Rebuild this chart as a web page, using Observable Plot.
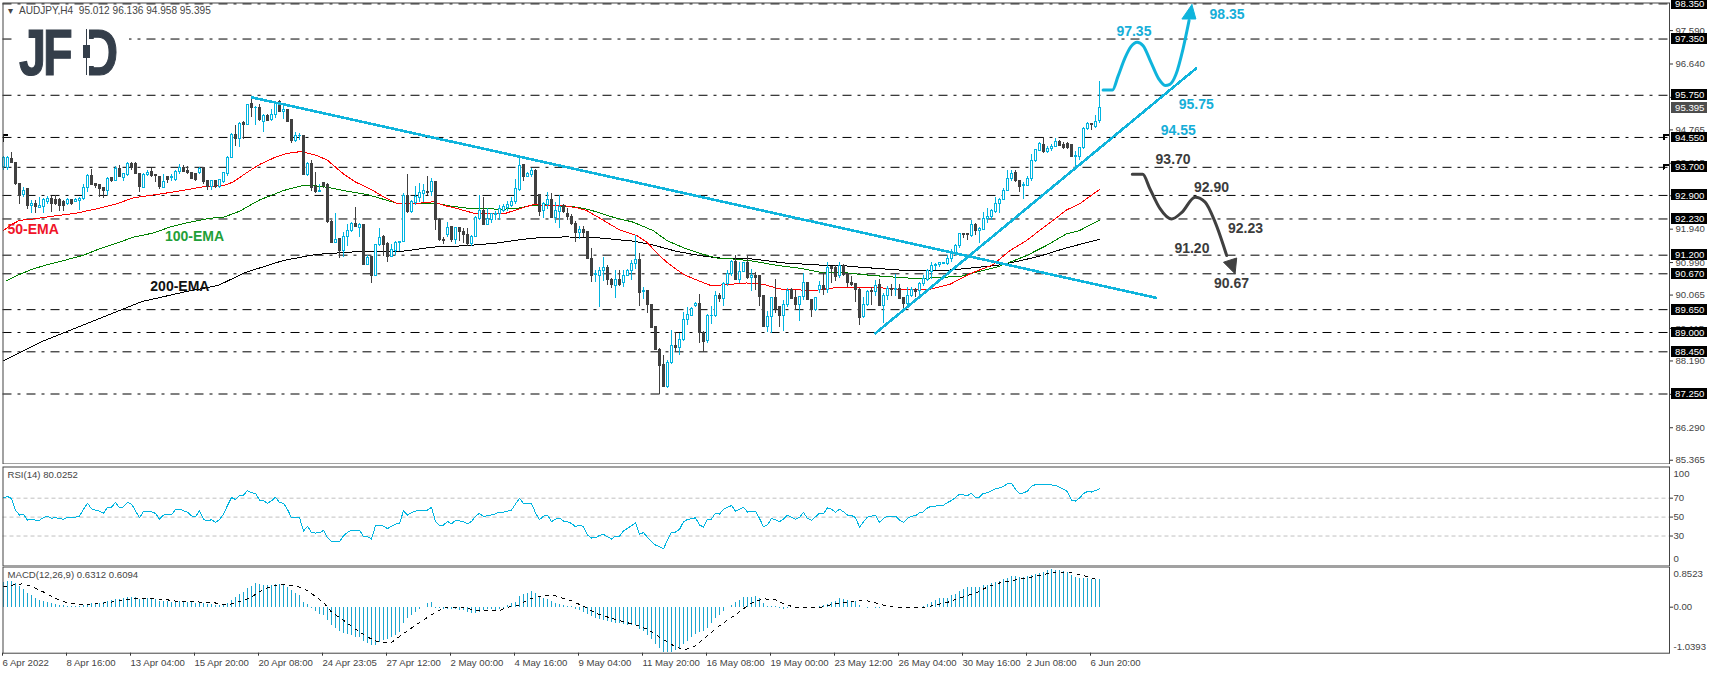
<!DOCTYPE html>
<html><head><meta charset="utf-8">
<script src="https://cdn.jsdelivr.net/npm/d3@7"></script>
<script src="https://cdn.jsdelivr.net/npm/@observablehq/plot@0.6"></script>
<style>
html,body{margin:0;padding:0;background:#fff;width:1710px;height:674px;overflow:hidden}
#stage{position:relative;width:1710px;height:674px}
#stage svg{position:absolute;left:0;background:transparent}
.logo{position:absolute;font:bold 64px "Liberation Sans";color:#343e4a;line-height:64px;transform-origin:left top;transform:scaleX(.76);-webkit-text-stroke:1.2px #343e4a}
.patch{position:absolute;background:#fff}
.ink{position:absolute;background:#343e4a}
</style></head><body><div id="stage"></div>
<script>
const opens=[93.72,93.68,93.94,93.82,93.23,92.90,93.07,92.59,92.65,92.55,
92.57,92.71,92.80,92.78,92.78,92.72,92.66,92.76,92.72,92.74,
92.79,93.12,93.44,93.23,93.20,93.11,93.04,93.39,93.32,93.64,
93.40,93.47,93.80,93.80,93.5,93.11,93.49,93.56,93.49,93.42,
93.12,93.42,93.39,93.34,93.57,93.67,93.59,93.55,93.5,93.55,
93.67,93.3,93.14,93.3,93.14,93.28,93.52,93.97,94.61,94.5,
94.97,94.91,95.5,95.38,95.4,95.0,95.17,95.05,95.2,95.55,
95.27,95.33,95.05,94.46,94.58,94.6,93.48,93.8,93.13,93.0,
93.25,93.21,92.14,91.55,91.66,91.31,91.71,91.88,92.09,91.98,
92.06,90.93,91.14,90.61,91.5,91.71,91.52,91.14,91.33,91.55,
91.57,92.87,92.42,92.68,92.82,92.94,93.0,92.99,93.28,92.2,
91.64,91.76,92.0,91.62,91.98,91.87,91.78,91.52,91.73,92.23,
92.47,92.07,92.19,92.35,92.38,92.47,92.55,92.61,92.7,93.06,
93.78,93.42,93.49,93.59,92.9,92.45,92.64,92.77,92.26,92.44,
92.61,92.36,92.3,92.09,91.83,91.92,91.85,91.09,90.64,90.62,
90.74,90.84,90.5,90.33,90.48,90.4,90.6,90.74,90.95,91.07,
90.14,90.18,89.79,89.15,88.5,88.08,87.44,88.12,88.62,88.55,
88.79,89.36,89.48,89.74,89.82,88.99,88.75,89.46,89.47,90.04,
89.96,90.38,90.67,91.0,90.5,90.72,90.97,90.55,90.6,90.62,
90.05,89.17,89.43,89.98,89.72,89.48,89.79,90.22,89.99,89.77,
90.0,90.41,89.93,89.64,90.2,90.31,90.2,90.85,90.84,90.6,
90.9,90.67,90.41,90.38,90.21,89.43,89.77,90.18,90.15,90.34,
89.75,90.03,90.25,90.22,90.25,89.98,89.8,90.03,90.2,90.17,
90.37,90.5,90.72,90.88,90.92,90.96,90.95,91.1,91.24,91.45,
91.81,91.79,91.75,92.05,91.88,91.92,92.22,92.28,92.42,92.66,
92.77,93.02,93.37,93.54,93.32,93.17,93.18,93.37,93.88,94.16,
94.34,94.15,94.21,94.27,94.43,94.34,94.37,94.34,94.0,93.99,
94.24,94.79,94.92,94.86,95.012];
const highs=[94.0,94.0,94.11,93.85,93.23,93.14,93.07,92.76,92.76,92.85,
92.80,92.88,92.88,92.90,92.80,92.76,92.80,92.78,92.80,92.85,
93.2,93.5,93.65,93.23,93.20,93.11,93.4,93.4,93.73,93.75,
93.53,93.83,93.83,93.83,93.5,93.52,93.6,93.67,93.5,93.42,
93.5,93.45,93.5,93.6,93.77,93.75,93.73,93.55,93.5,93.7,
93.7,93.3,93.3,93.3,93.35,93.55,94.0,94.65,94.9,94.98,
95.0,95.5,95.72,95.42,95.5,95.2,95.2,95.35,95.55,95.6,
95.5,95.35,95.05,94.7,94.65,94.6,93.85,93.88,93.56,93.2,
93.25,93.25,92.2,92.38,91.66,91.85,92.07,92.12,92.55,92.09,
92.06,91.2,91.14,91.5,91.95,91.75,91.55,91.5,91.6,91.6,
92.95,93.49,92.75,93.15,93.23,93.2,93.44,93.37,93.28,92.25,
91.7,92.12,92.0,92.0,92.0,91.95,91.95,91.75,92.3,92.9,
92.85,92.52,92.4,92.45,92.62,92.65,92.73,92.85,93.35,94.0,
93.78,93.55,93.68,93.65,92.9,92.7,92.99,92.95,92.7,92.9,
92.65,92.52,92.35,92.15,92.01,92.02,91.87,91.4,90.76,90.86,
91.12,90.9,90.55,90.76,90.76,90.76,90.8,91.05,91.76,91.24,
90.29,90.2,89.8,89.17,88.55,88.34,88.2,89.07,88.99,88.96,
89.58,89.72,89.72,89.86,90.08,89.03,89.5,89.74,90.18,90.1,
90.42,90.76,91.06,91.19,91.0,91.0,91.19,90.8,90.72,90.62,
90.05,89.6,90.0,90.5,89.75,89.9,90.25,90.25,90.19,90.0,
90.67,90.43,89.95,90.0,90.44,90.7,91.0,90.87,90.9,91.0,
90.93,90.67,90.6,90.38,90.25,90.0,90.2,90.29,90.48,90.5,
90.1,90.3,90.37,90.64,90.37,90.0,90.27,90.27,90.24,90.42,
90.62,90.8,91.0,90.97,91.0,91.0,91.2,91.35,91.5,91.83,
91.81,91.83,92.2,92.1,92.0,92.42,92.52,92.5,92.83,92.8,
93.1,93.6,93.6,93.6,93.32,93.28,93.45,94.06,94.2,94.4,
94.54,94.3,94.35,94.52,94.45,94.4,94.4,94.36,94.16,94.26,
94.83,94.98,94.96,95.17,96.136];
const lows=[93.62,93.62,93.80,93.17,92.64,92.85,92.49,92.38,92.38,92.52,
92.40,92.65,92.42,92.60,92.45,92.45,92.60,92.62,92.70,92.47,
92.76,92.99,93.21,93.10,92.85,92.80,92.90,93.28,93.3,93.4,
93.3,93.45,93.6,93.5,92.99,93.09,93.45,93.4,93.28,93.08,
93.1,93.25,93.3,93.3,93.5,93.55,93.5,93.35,93.3,93.5,
93.2,93.05,93.05,93.1,93.1,93.25,93.45,93.95,94.28,94.25,
94.5,94.9,95.13,94.9,95.0,94.7,95.0,95.0,95.1,95.25,
95.05,95.0,94.37,94.4,94.45,93.48,93.45,93.0,92.95,92.97,
93.1,92.1,91.55,91.53,91.1,91.13,91.45,91.85,91.99,91.69,
90.93,90.9,90.4,90.6,91.45,91.15,91.0,91.14,91.2,91.3,
91.55,92.4,92.4,92.62,92.7,92.7,92.9,92.88,91.9,91.6,
91.5,91.7,91.55,91.5,91.6,91.52,91.45,91.45,91.7,92.2,
92.05,92.05,92.1,92.2,92.2,92.42,92.45,92.55,92.65,93.0,
93.3,93.4,93.4,92.66,92.3,92.25,92.5,92.25,92.1,91.97,
92.4,92.2,92.05,91.57,91.66,91.7,91.09,90.43,90.43,89.7,
90.45,90.34,90.24,89.98,90.3,90.29,90.58,90.48,90.8,89.74,
89.93,89.53,89.12,88.49,87.25,87.44,87.42,88.1,88.42,88.35,
88.75,89.2,89.45,89.7,88.7,88.42,88.7,89.24,89.44,89.86,
89.74,90.3,90.6,90.48,90.38,90.7,90.5,90.18,90.2,89.74,
89.17,89.0,88.96,89.53,89.15,89.04,89.72,89.94,89.63,89.32,
89.9,89.9,89.43,89.6,90.1,90.05,90.1,90.4,90.45,90.55,
90.6,90.29,90.3,89.86,89.2,89.4,89.75,89.76,90.02,89.74,
89.27,89.9,90.02,90.02,89.94,89.63,89.78,90.0,90.0,90.05,
90.3,90.45,90.5,90.75,90.85,90.94,90.9,91.0,91.15,91.4,
91.68,91.63,91.7,91.76,91.54,91.9,92.1,92.2,92.4,92.4,
92.75,93.0,93.3,93.28,92.98,92.79,93.15,93.3,93.85,94.15,
94.08,94.1,94.15,94.25,94.28,94.2,94.2,93.97,93.7,93.9,
94.2,94.75,94.76,94.8,94.958];
const closes=[93.97,93.96,93.82,93.23,92.88,93.04,92.60,92.65,92.57,92.61,
92.76,92.80,92.66,92.66,92.61,92.61,92.76,92.66,92.76,92.80,
93.11,93.44,93.21,93.17,93.08,93.04,93.37,93.32,93.65,93.42,
93.5,93.8,93.68,93.5,93.13,93.49,93.54,93.45,93.44,93.15,
93.28,93.33,93.42,93.58,93.67,93.57,93.53,93.37,93.33,93.66,
93.28,93.14,93.3,93.14,93.33,93.54,93.97,94.61,94.5,94.94,
94.91,95.48,95.39,95.4,95.05,95.17,95.03,95.2,95.52,95.27,
95.33,95.0,94.46,94.58,94.6,93.48,93.8,93.12,92.99,93.03,
93.18,92.14,91.55,91.64,91.31,91.73,91.9,92.09,91.99,92.06,
90.93,91.12,90.61,91.5,91.69,91.5,91.14,91.35,91.55,91.57,
92.87,92.42,92.7,92.85,92.96,93.04,92.97,93.28,92.2,91.62,
91.6,91.98,91.62,91.98,91.85,91.76,91.52,91.71,92.25,92.47,
92.06,92.22,92.36,92.38,92.51,92.56,92.64,92.72,93.09,93.75,
93.42,93.51,93.59,92.66,92.44,92.66,92.77,92.26,92.45,92.58,
92.42,92.3,92.09,91.83,91.92,91.83,91.09,90.62,90.67,90.76,
90.84,90.48,90.34,90.48,90.36,90.6,90.74,90.95,91.06,90.12,
90.18,89.77,89.12,88.49,88.06,87.44,88.14,88.62,88.55,88.79,
89.36,89.5,89.68,89.82,88.98,88.72,89.47,89.48,90.04,89.94,
90.38,90.67,91.0,90.5,90.72,90.97,90.55,90.6,90.56,90.02,
89.17,89.43,89.98,89.67,89.48,89.79,90.19,89.96,89.77,90.0,
90.41,89.93,89.64,89.98,90.31,90.2,90.84,90.8,90.59,90.9,
90.64,90.4,90.36,90.2,89.42,89.79,90.15,90.16,90.32,89.74,
90.04,90.24,90.22,90.25,89.96,89.8,90.03,90.2,90.16,90.38,
90.53,90.74,90.88,90.92,90.97,90.98,91.1,91.27,91.45,91.81,
91.78,91.77,92.05,91.88,91.95,92.23,92.3,92.45,92.66,92.77,
93.04,93.37,93.52,93.3,93.15,93.2,93.37,93.88,94.18,94.35,
94.13,94.23,94.27,94.43,94.32,94.25,94.25,93.99,94.02,94.24,
94.79,94.92,94.89,95.0,95.395];

const ema50=[[0,91.9],[2,92.07],[4,92.19],[7.4,92.23],[11.6,92.3],[18,92.39],[23.3,92.52],[28.3,92.66],[32.4,92.83],[36.6,92.9],[40.8,92.97],[45.8,93.06],[50,93.15],[55,93.18],[57.4,93.28],[61.6,93.61],[64,93.78],[68,93.99],[71,94.1],[74.5,94.15],[78.3,94.04],[81,93.9],[85,93.51],[88,93.28],[91.6,93.09],[94.9,92.87],[98.25,92.68],[104,92.68],[107.4,92.72],[110,92.62],[113.25,92.53],[117.4,92.4],[120.75,92.38],[125.75,92.4],[129,92.52],[132.4,92.64],[134.9,92.62],[140,92.61],[143.3,92.55],[145.8,92.47],[150,92.19],[154,91.92],[158.3,91.76],[160.8,91.57],[164,91.19],[165.8,91.0],[170,90.65],[174,90.46],[177,90.33],[181.6,90.37],[185.8,90.41],[190,90.37],[194,90.24],[199,90.21],[203,90.2],[209,90.29],[217.4,90.29],[225.8,90.21],[231.6,90.23],[236.6,90.37],[241.6,90.67],[247.4,90.93],[251.6,91.33],[255.8,91.62],[259,91.9],[262.4,92.19],[265.8,92.49],[269,92.66],[274,93.07]];
const ema100=[[0.8,90.48],[3.3,90.62],[7.4,90.81],[11.6,90.95],[15.8,91.07],[20,91.2],[24,91.38],[28.3,91.54],[32.4,91.71],[37.4,91.83],[41.6,92.0],[46.6,92.14],[51.6,92.25],[55,92.28],[59,92.45],[64,92.77],[70,93.04],[74.5,93.17],[78.3,93.17],[81,93.13],[85.8,93.02],[90.8,92.93],[98.3,92.68],[104,92.68],[108,92.68],[111.5,92.6],[116.6,92.53],[124,92.51],[128,92.52],[131.5,92.6],[135.7,92.63],[143,92.57],[146.6,92.49],[152.4,92.28],[157.4,92.14],[162.4,91.9],[165.8,91.62],[170,91.41],[175,91.22],[178.3,91.12],[182.5,91.09],[187.5,91.03],[193.3,90.91],[199,90.83],[204,90.72],[209,90.72],[214.5,90.65],[218.7,90.61],[223.3,90.57],[229,90.53],[234,90.57],[239,90.59],[243.3,90.72],[248.3,90.86],[251.6,91.0],[255.8,91.19],[260.8,91.48],[265.8,91.81],[269,91.9],[274,92.2]];
const ema200=[[0,88.2],[10,88.76],[21,89.26],[34.6,89.88],[45.5,90.16],[53.7,90.34],[60.5,90.71],[70,91.05],[78,91.22],[87,91.29],[95,91.31],[99,91.3],[107.4,91.43],[115.7,91.47],[123,91.54],[129,91.64],[134,91.7],[140.7,91.72],[149,91.69],[157.4,91.6],[162.4,91.49],[168.2,91.31],[174,91.19],[179,91.12],[187.5,91.09],[195,90.98],[204,90.92],[209,90.91],[214,90.86],[220,90.81],[226,90.76],[234,90.75],[242.4,90.84],[248.3,90.91],[253.3,91.02],[259,91.17],[265.8,91.41],[274,91.65]];

const rsi=[70.4,71.8,69.6,57.4,52.1,53.2,46.8,47.9,46.8,46.8,
49.6,51,48.6,49.6,48.2,47.9,50,49.6,50,51,
58.1,64.7,58.8,57.4,56.3,54.2,60.2,60.5,65.4,59.8,
60.9,65.8,63.7,56.7,49.3,56,56,55.6,53.9,47.9,
52.1,53.2,52.4,58.1,58.4,56.7,55.3,51.4,50.3,57,
47.5,46.1,47.2,44.4,47.5,53.2,62.3,70.7,68.6,72.8,
73.2,78.1,75.6,75.3,67.9,67.2,64.7,67.2,71.1,65.4,
64.7,58.1,49.3,50,49.6,35.3,40.5,33.8,33.1,33.5,
36,28.2,24,24,24,30.3,33.8,36,35.6,36.3,
29.3,29.3,26.8,40.9,41.6,40.5,37.7,40.5,42.6,43.3,
56.7,52.1,54.6,56.3,57.4,57.4,57.4,60.5,45.1,41.2,
41.6,45.4,43,46.5,46.1,45.1,43,45.4,51,53.9,
50.7,51.4,52.4,53.5,55.3,55.3,56.3,57.4,63.7,70,
64.4,64.7,64.4,54.6,47.2,51,52.1,45.1,47.9,48.9,
45.8,45.1,43.3,39.8,41.6,39.8,31,27.9,28.2,30.7,
31.7,29.3,26.8,30,30,35.3,38.1,40.9,44,32.1,
33.5,28.6,24,20.5,18.8,16.3,25.8,33.8,34.2,37,
45.1,47.5,48.2,49.3,41.6,39.5,47.9,47.9,54.2,53.2,
58.1,60.2,62.3,56.3,58.4,60.5,55.3,56.3,56.3,48.6,
39.8,41.9,48.6,47.2,45.1,47.9,52.1,50,47.9,49.6,
54.9,48.6,46.5,50.3,54.2,53.5,59.8,58.4,54.9,58.4,
55.6,52.1,51.7,49.6,39.5,45.1,50,51,52.1,44.4,
48.6,51,51,51,46.8,44.4,48.6,51,51.4,54.6,
55.6,59.8,61.6,61.6,62.3,62.6,65.4,67.5,70.7,74.2,
73.5,72.8,75.3,70.7,71.1,75.3,75.6,77.7,79.8,80.9,
82.3,85.4,85.8,79.5,74.6,75.6,77.4,82.6,84.4,84.7,
84.7,84.5,84,83.5,81.5,79.5,77,68,67,70,
75,77,76.5,78,80.0252];

const macd=[.56,.58,.58,.53,.47,.40,.30,.26,.20,.15,
.13,.11,.08,.05,.04,.03,.02,.02,.02,.02,
.03,.06,.08,.09,.09,.10,.12,.15,.17,.18,
.20,.22,.22,.21,.18,.19,.19,.18,.17,.14,
.14,.13,.11,.12,.12,.12,.11,.10,.09,.11,
.08,.06,.05,.04,.04,.05,.09,.15,.22,.28,
.34,.42,.47,.53,.51,.50,.49,.50,.52,.51,
.49,.45,.38,.32,.26,.11,.06,-.02,-.10,-.17,
-.2,-.3,-.42,-.48,-.55,-.6,-.63,-.65,-.68,-.7,
-.78,-.82,-.88,-.86,-.8,-.76,-.74,-.7,-.64,-.58,
-.36,-.26,-.2,-.12,-.05,0,.08,.1,-.04,-.04,
-.06,-.05,-.06,-.05,-.07,-.08,-.11,-.15,-.14,-.11,
-.08,-.05,-.05,-.08,-.05,-.02,.04,.08,.11,.25,
.29,.32,.35,.32,.23,.19,.17,.13,.09,.06,
.04,.02,.01,-.05,-.08,-.11,-.17,-.22,-.26,-.28,
-.3,-.32,-.34,-.36,-.38,-.4,-.42,-.42,-.42,-.5,
-.56,-.65,-.74,-.85,-.95,-1.02,-1.04,-1.04,-.98,-.95,
-.85,-.78,-.7,-.62,-.58,-.55,-.48,-.38,-.25,-.19,
-.1,0,.04,.1,.15,.21,.22,.22,.24,.19,
.09,.02,.01,.01,-.02,-.05,-.02,0,-.01,-.01,
-.01,0,0,0,.01,.04,.06,.11,.14,.19,
.17,.16,.14,.14,.04,-.01,-.02,-.01,-.04,-.02,
-.01,-.01,0,0,0,0,0,0,0,0,
.02,.06,.11,.15,.19,.20,.19,.26,.28,.36,
.40,.44,.44,.44,.44,.49,.50,.53,.56,.59,
.64,.65,.69,.69,.68,.68,.69,.71,.74,.76,
.8,.83,.85,.84,.84,.82,.8,.72,.68,.65,
.66,.65,.62,.62,.6312];
const signal=[[0,.47],[2,.49],[3,.52],[5,.53],[7,.47],[9,.39],[11,.30],[13,.20],[15,.13],[17,.08],[20,.06],[24,.08],[28,.13],[32,.19],[36,.20],[40,.18],[43,.14],[48,.12],[52,.11],[56,.05],[58,.10],[60,.15],[62,.23],[65,.41],[69,.52],[73,.49],[76,.38],[80,.11],[82,-.11],[85,-.3],[88,-.5],[91,-.68],[94,-.8],[97,-.8],[100,-.6],[104,-.35],[107,-.17],[110,-.02],[114,0],[119,-.08],[124,-.08],[126,0],[129,.04],[130,.11],[132,.2],[134,.24],[136,.26],[138,.26],[140,.2],[142,.15],[144,.06],[146,-.02],[147,-.08],[149,-.17],[152,-.25],[155,-.33],[158,-.4],[161,-.5],[164,-.68],[167,-.85],[170,-.98],[173,-.88],[176,-.65],[179,-.42],[183,-.17],[185,-.04],[186,.04],[188,.135],[190,.19],[193,.17],[195,.08],[198,-.01],[201,-.015],[204,-.01],[206,.04],[209,.09],[212,.135],[215,.165],[218,.1],[221,.02],[223,0],[229,-.015],[232,.03],[236,.11],[239,.21],[243,.32],[246,.46],[249,.55],[254,.64],[258,.7],[262,.78],[266,.8],[270,.72],[274,.6094]];

const levels=[98.35,97.35,95.75,94.55,93.70,92.90,92.23,91.20,90.67,89.65,89.00,88.45,87.25];
const priceTicks=[97.59,96.64,95.69,94.765,93.815,92.89,91.94,90.99,90.065,89.115,88.19,87.24,86.29,85.365];
const lastPrice=95.395;
const downTrend=[[62.1,95.69],[288.1,89.99]];
const upTrend=[[218,88.98],[298.1,96.51]];
const bullPath=[[274.9,95.9],[277.25,95.9],[278.6,96.28],[280.4,96.82],[281.9,97.14],[283.4,97.26],[284.9,97.16],[286.9,96.68],[288.9,96.2],[290.4,96.03],[291.6,96.06],[293.1,96.34],[294.9,97.08],[296.4,97.88]];
const bullHead=[[297.1,98.33],[294.6,97.92],[298.1,97.92],[297.1,98.33]];
const bearPath=[[282.2,93.5],[284.8,93.5],[286.6,93.09],[289.1,92.53],[292,92.23],[294.6,92.42],[297.9,92.85],[300.4,92.71],[302.9,92.14],[305.8,91.19]];
const bearHead=[[307.9,90.67],[305,91],[308.3,91.12],[307.9,90.67]];
const levelMarks=[[[415.1,94.5],[415.1,94.62],[416.2,94.62]],[[415.1,93.65],[415.1,93.77],[416.2,93.77]],[[0,94.45],[0,94.62],[1.1,94.62]]];
const notes=[["97.35",282.6,97.56,"#16aed8"],["98.35",305.9,98.05,"#16aed8"],["95.75",298.2,95.49,"#16aed8"],["94.55",293.7,94.75,"#16aed8"],["93.70",292.4,93.92,"#3c3c3c"],["92.90",302,93.12,"#3c3c3c"],["92.23",310.5,91.96,"#3c3c3c"],["91.20",297.1,91.39,"#3c3c3c"],["90.67",307,90.39,"#3c3c3c"],["50-EMA",7.4,91.93,"#f01428"],["100-EMA",47.75,91.73,"#1fa038"],["200-EMA",44.1,90.31,"#111111"]];
const timeTicks=[0,16,32,48,64,80,96,112,128,144,160,176,192,208,224,240,256,272];
const timeLabels=["6 Apr 2022","8 Apr 16:00","13 Apr 04:00","15 Apr 20:00","20 Apr 08:00","24 Apr 23:05","27 Apr 12:00","2 May 00:00","4 May 16:00","9 May 04:00","11 May 20:00","16 May 08:00","19 May 00:00","23 May 12:00","26 May 04:00","30 May 16:00","2 Jun 08:00","6 Jun 20:00"];

const CYAN="#00b4e0", DARK="#404040", FONT='"Liberation Sans",sans-serif', FS=9.6;
const X={domain:[0,274],range:[3,1099],axis:null};
const stage=document.getElementById("stage");
const add=(opts,top)=>{const s=Plot.plot({width:1710,marginLeft:2.5,marginRight:41,x:X,
  style:{fontFamily:FONT,fontSize:FS+"px",background:"transparent",color:"#333"},...opts});
  s.style.top=top+"px";stage.appendChild(s);return s;};

const candles=closes.map((c,i)=>({i,o:opens[i],h:highs[i],l:lows[i],c}));
const bull=candles.filter(d=>d.c>=d.o), bear=candles.filter(d=>d.c<d.o);
const xy={x:d=>d[0],y:d=>d[1]};
const CRISP={shapeRendering:"crispEdges"};
const ema=(data,stroke)=>Plot.line(data,{...xy,stroke,strokeWidth:1,...CRISP});
const labelBox=(vals,fill)=>[
  Plot.rect(vals,{x1:416.9,x2:425.9,y1:d=>d-.155,y2:d=>d+.155,fill,...CRISP}),
  Plot.text(vals,{x:417.9,y:d=>d,text:d=>d.toFixed(3),textAnchor:"start",fill:"#fff",fontSize:FS})];
const paneText=(t,dy)=>Plot.text([t],{frameAnchor:"top-left",dx:4.5,dy,textAnchor:"start",fill:"#444",fontSize:FS});

add({height:464,marginTop:2.5,marginBottom:.5,
  y:{domain:[87.25,98.35],range:[393.5,3.4],axis:null},
  marks:[
   Plot.ruleY(levels,{stroke:"#000",strokeWidth:1,strokeDasharray:"9,6,3,6"}),
   ...levelMarks.map(m=>Plot.line(m,{...xy,stroke:"#000",...CRISP})),
   ema(ema200,"#000"),ema(ema100,"#008000"),ema(ema50,"#ff0000"),
   Plot.ruleX(bull,{x:"i",y1:"l",y2:"h",stroke:CYAN,...CRISP}),
   Plot.ruleX(bear,{x:"i",y1:"l",y2:"h",stroke:DARK,...CRISP}),
   Plot.rect(bull,{x1:d=>d.i-.25,x2:d=>d.i+.25,y1:"o",y2:"c",fill:"#fff",stroke:CYAN,...CRISP}),
   Plot.rect(bear,{x1:d=>d.i-.25,x2:d=>d.i+.25,y1:"o",y2:"c",fill:DARK,stroke:DARK,...CRISP}),
   Plot.line(downTrend,{...xy,stroke:"#0fb4dc",strokeWidth:2.6,...CRISP}),
   Plot.line(upTrend,{...xy,stroke:"#0fb4dc",strokeWidth:2.6,...CRISP}),
   Plot.line(bullPath,{...xy,stroke:"#0fb4dc",strokeWidth:3,curve:"monotone-x"}),
   Plot.line(bullHead,{...xy,fill:"#0fb4dc",stroke:"#0fb4dc",strokeWidth:1}),
   Plot.line(bearPath,{...xy,stroke:DARK,strokeWidth:3,curve:"monotone-x"}),
   Plot.line(bearHead,{...xy,fill:DARK,stroke:DARK,strokeWidth:1}),
   Plot.text(notes,{x:d=>d[1],y:d=>d[2],text:d=>d[0],fill:d=>d[3],fontWeight:"bold",fontSize:14}),
   Plot.axisY(priceTicks,{anchor:"right",tickSize:3,tickPadding:3,tickFormat:d=>d.toFixed(3),fill:"#444",fontSize:FS}),
   ...labelBox(levels,"#000"),
   ...labelBox([lastPrice],"#4d4d4d"),
   paneText("\u25BE",4.5),
   Plot.text(["AUDJPY,H4\u00a0\u00a095.012 96.136 94.958 95.395"],{frameAnchor:"top-left",dx:16,dy:4,textAnchor:"start",fill:"#444",fontSize:FS+.5}),
   Plot.frame({stroke:"#444"})
  ]},0);

add({height:101,marginTop:1.5,marginBottom:.5,
  y:{domain:[0,100],range:[98.9,4.3],axis:null},
  marks:[
   Plot.ruleY([70,50,30],{stroke:"#c0c0c0",strokeDasharray:"4,3"}),
   Plot.line(rsi,{x:(d,i)=>i,y:d=>d,stroke:CYAN,strokeWidth:1,...CRISP}),
   Plot.axisY([70,50,30],{anchor:"right",tickSize:3,tickPadding:1,fill:"#444",fontSize:FS}),
   Plot.text(["100","0"],{x:417.5,y:d=>d==="0"?6:96,textAnchor:"start",fill:"#444",fontSize:FS}),
   paneText("RSI(14) 80.0252",4.5),
   Plot.frame({stroke:"#444"})
  ]},464.5);

add({height:109,marginTop:1.5,marginBottom:21.3,
  y:{domain:[-1.0393,.8523],range:[87.4,4.2],axis:null},
  marks:[
   Plot.ruleX(macd,{x:(d,i)=>i,y1:0,y2:d=>d,stroke:"#1ba6d0",...CRISP}),
   Plot.line(signal,{...xy,stroke:"#000",strokeWidth:1,strokeDasharray:"3,5",...CRISP}),
   Plot.axisY([0],{anchor:"right",tickSize:3,tickPadding:1,tickFormat:d=>d.toFixed(2),fill:"#444",fontSize:FS}),
   Plot.text([.8523,-1.0393],{x:417.5,y:d=>d>0?.76:-.91,text:d=>d.toFixed(4),textAnchor:"start",fill:"#444",fontSize:FS}),
   Plot.axisX(timeTicks,{anchor:"bottom",tickSize:3,tickPadding:3,textAnchor:"start",tickFormat:(d)=>timeLabels[timeTicks.indexOf(d)],fill:"#444",fontSize:FS,dx:-1}),
   paneText("MACD(12,26,9) 0.6312 0.6094",4.5),
   Plot.frame({stroke:"#444"})
  ]},565);

// logo
const logo=(ch,left)=>{const e=document.createElement("div");e.className="logo";e.textContent=ch;e.style.left=left+"px";e.style.top="21px";stage.appendChild(e);};
const box=(c,l,t,w,h)=>{const e=document.createElement("div");e.className=c;e.style.cssText=`left:${l}px;top:${t}px;width:${w}px;height:${h}px`;stage.appendChild(e);};
box("patch",13,15,116,65);
logo("J",19);logo("F",43);logo("D",83);
box("patch",78,25,11,55);
box("patch",88,39,12,27);
box("ink",85.5,29,1.5,46);
box("ink",82.5,45,7,13);
</script></body></html>
